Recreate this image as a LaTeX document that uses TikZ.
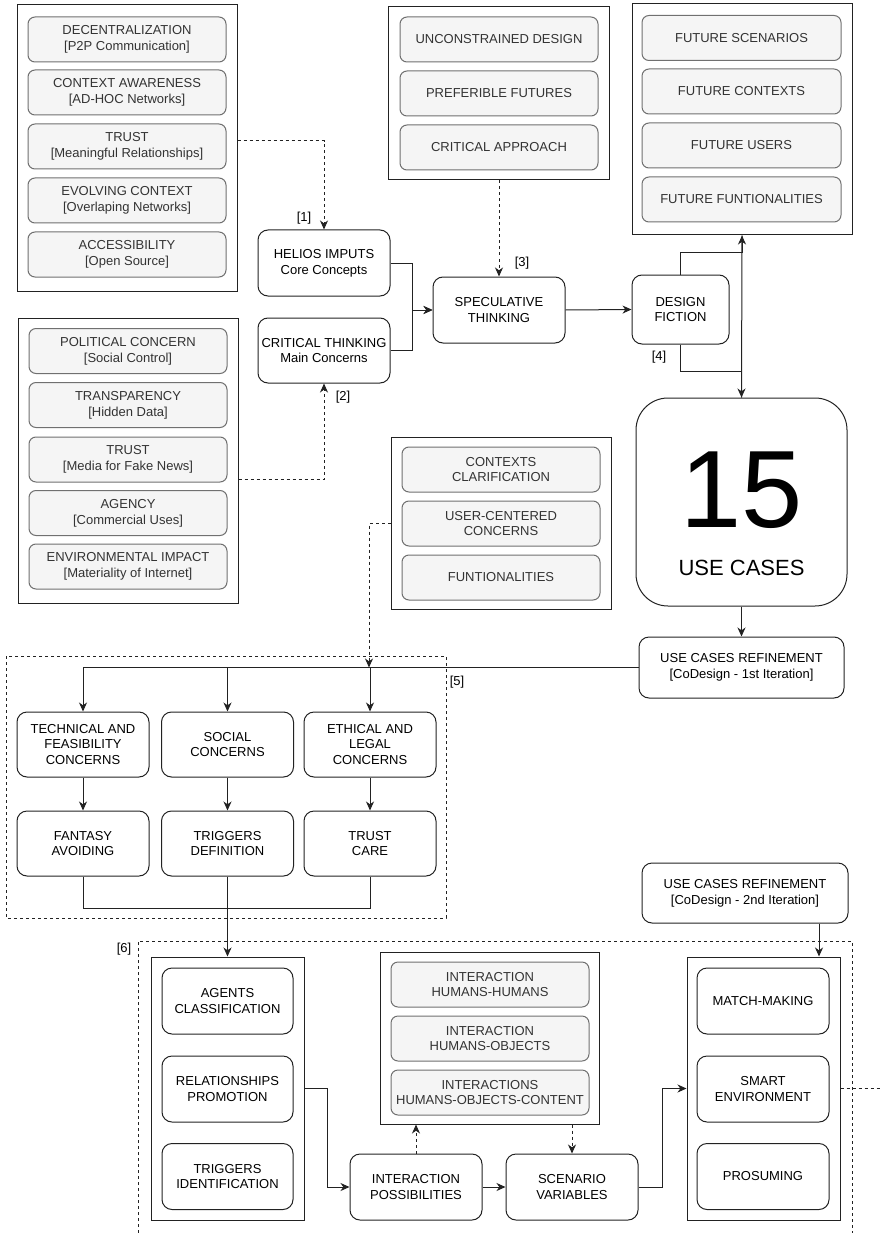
\documentclass[tikz,border=0pt]{standalone}
\usepackage{fontspec}
\setmainfont{Liberation Sans}
\usetikzlibrary{arrows.meta}
\definecolor{gfill}{HTML}{F5F5F5}
\definecolor{gline}{HTML}{707070}
\definecolor{gtext}{HTML}{333333}
\definecolor{ink}{HTML}{222222}
\newcommand\fnorm{\fontsize{13}{15.7}\selectfont}
\begin{document}
\begin{tikzpicture}[x=1pt,y=-1pt,
  >={Stealth[length=9pt,width=8pt,inset=2.8pt]},
  every node/.style={font=\fnorm, inner sep=0pt},
  cont/.style={draw=ink, line width=1pt, fill=white},
  gbox/.style={draw=gline, line width=1pt, fill=gfill, text=gtext,
    rounded corners=7pt, align=center, minimum width=198pt, minimum height=45pt},
  wbox/.style={draw=ink, line width=1pt, fill=white, text=black,
    rounded corners=10pt, align=center, minimum width=132pt, minimum height=66pt},
  conn/.style={draw=ink, line width=1pt},
  dashln/.style={draw=ink, line width=1pt, dash pattern=on 3pt off 3pt},
  lbl/.style={text=black}
]
\useasboundingbox (0,0) rectangle (880,1233);

% ---------- group frames (dashed) ----------
\draw[dashln] (6,656) rectangle (446,918);
\draw[dashln] (138,1233) -- (138,941) -- (852,941) -- (852,1233);

% ---------- HELIOS core concepts ----------
\node[cont, minimum width=220pt, minimum height=286pt] (A) at (127,148) {};
\node[gbox] (a1) at (127,39.5)  {DECENTRALIZATION\\{}[P2P Communication]};
\node[gbox] (a2) at (127,92.5)  {CONTEXT AWARENESS\\{}[AD-HOC Networks]};
\node[gbox] (a3) at (127,146.5) {TRUST\\{}[Meaningful Relationships]};
\node[gbox] (a4) at (127,200.5) {EVOLVING CONTEXT\\{}[Overlaping Networks]};
\node[gbox] (a5) at (127,254.5) {ACCESSIBILITY\\{}[Open Source]};

% ---------- main concerns ----------
\node[cont, minimum width=220pt, minimum height=285pt] (B) at (128,460.5) {};
\node[gbox] (b1) at (128,351)   {POLITICAL CONCERN\\{}[Social Control]};
\node[gbox] (b2) at (128,405)   {TRANSPARENCY\\{}[Hidden Data]};
\node[gbox] (b3) at (128,459.5) {TRUST\\{}[Media for Fake News]};
\node[gbox] (b4) at (128,513)   {AGENCY\\{}[Commercial Uses]};
\node[gbox] (b5) at (128,566.5) {ENVIRONMENTAL IMPACT\\{}[Materiality of Internet]};

% ---------- speculative design ----------
\node[cont, minimum width=221pt, minimum height=173pt] (D) at (498.5,93.5) {};
\node[gbox] (d1) at (499,39.5)  {UNCONSTRAINED DESIGN};
\node[gbox] (d2) at (499,93.5)  {PREFERIBLE FUTURES};
\node[gbox] (d3) at (499,147.5) {CRITICAL APPROACH};

% ---------- futures ----------
\node[cont, minimum width=220pt, minimum height=231pt] (E) at (742,119.5) {};
\node[gbox, minimum width=199pt] (e1) at (741.5,38)    {FUTURE SCENARIOS};
\node[gbox, minimum width=199pt] (e2) at (741.5,91.5)  {FUTURE CONTEXTS};
\node[gbox, minimum width=199pt] (e3) at (741.5,145.5) {FUTURE USERS};
\node[gbox, minimum width=199pt] (e4) at (741.5,199.5) {FUTURE FUNTIONALITIES};

% ---------- clarification ----------
\node[cont, minimum width=220pt, minimum height=172pt] (C) at (501,523) {};
\node[gbox] (c1) at (501,469.5) {CONTEXTS\\CLARIFICATION};
\node[gbox] (c2) at (501,523.5) {USER-CENTERED\\CONCERNS};
\node[gbox] (c3) at (501,577.5) {FUNTIONALITIES};

% ---------- process boxes ----------
\node[wbox] (hel) at (324,263) {HELIOS IMPUTS\\Core Concepts};
\node[wbox, minimum height=65pt] (crit) at (324,350.5) {CRITICAL THINKING\\Main Concerns};
\node[wbox] (spec) at (499,310) {SPECULATIVE\\THINKING};
\node[wbox, minimum width=97pt, minimum height=69pt] (df) at (680.5,309.5) {DESIGN\\FICTION};

\node[wbox, rounded corners=32pt, minimum width=211pt, minimum height=208pt] (uc) at (741.5,502) {};
\node[text=black, font=\fontsize{110}{110}\selectfont] (ucnum) at (741.5,490) {15};
\node[text=black, font=\fontsize{22}{26}\selectfont] (uctxt) at (741.5,568) {USE CASES};

\node[wbox, minimum width=205pt, minimum height=61pt] (ucr1) at (741.5,667.5)
  {USE CASES REFINEMENT\\{}[CoDesign - 1st Iteration]};

\node[wbox, minimum height=65pt] (tech) at (83,744.5)   {TECHNICAL AND\\FEASIBILITY\\CONCERNS};
\node[wbox, minimum height=65pt] (soc)  at (227.5,744.5) {SOCIAL\\CONCERNS};
\node[wbox, minimum height=65pt] (eth)  at (370,744.5)  {ETHICAL AND\\LEGAL\\CONCERNS};
\node[wbox, minimum height=65pt] (fant) at (83,843.5)   {FANTASY\\AVOIDING};
\node[wbox, minimum height=65pt] (td)   at (227.5,843.5) {TRIGGERS\\DEFINITION};
\node[wbox, minimum height=65pt] (tc)   at (370,843.5)  {TRUST\\CARE};

\node[wbox, minimum width=206pt, minimum height=60pt] (ucr2) at (745,893)
  {USE CASES REFINEMENT\\{}[CoDesign - 2nd Iteration]};

% agents
\node[cont, minimum width=153pt, minimum height=263pt] (F) at (227.5,1088.5) {};
\node[wbox, minimum width=131pt] (agc) at (227.5,1001)   {AGENTS\\CLASSIFICATION};
\node[wbox, minimum width=131pt] (rel) at (227.5,1089)   {RELATIONSHIPS\\PROMOTION};
\node[wbox, minimum width=131pt] (trg) at (227.5,1176.5) {TRIGGERS\\IDENTIFICATION};

% interactions
\node[cont, minimum width=219pt, minimum height=172pt] (G) at (489.5,1038) {};
\node[gbox] (g1) at (490,984.5)  {INTERACTION\\HUMANS-HUMANS};
\node[gbox] (g2) at (490,1038.5) {INTERACTION\\HUMANS-OBJECTS};
\node[gbox] (g3) at (490,1092.5) {INTERACTIONS\\HUMANS-OBJECTS-CONTENT};

\node[wbox] (ip) at (416,1187) {INTERACTION\\POSSIBILITIES};
\node[wbox] (sv) at (572,1187) {SCENARIO\\VARIABLES};

% outcomes
\node[cont, minimum width=153pt, minimum height=263pt] (H) at (763.5,1088.5) {};
\node[wbox] (mm) at (763,1001)   {MATCH-MAKING};
\node[wbox] (se) at (763,1089)   {SMART\\ENVIRONMENT};
\node[wbox] (pr) at (763,1176.5) {PROSUMING};

% ---------- connectors ----------
\draw[dashln,->] ([yshift=7pt]A.east) -| (hel.north);
\draw[dashln,->] ([yshift=-18.5pt]B.east) -| (crit.south);
\draw[dashln,->] (D.south -| spec.north) -- (spec.north);

\draw[conn,->] (hel.east) -- ++(22,0) |- (spec.west);
\draw[conn,->] (crit.east) -- ++(22,0) |- (spec.west);
\draw[conn,->] (spec.east) -- (df.west);

\draw[conn,->] (df.north) -- ++(0,-22) -| (E.south);
\draw[conn,->] (df.south) -- ++(0,27) -| (uc.north);
\draw[conn] (E.south) -- (uc.north);
\draw[conn,->] (uc.south) -- (ucr1.north);

\coordinate (busC) at (369,667.5);
\draw[conn,->] (ucr1.west) -| (tech.north);
\draw[conn,->] (soc.north |- ucr1.west) -- (soc.north);
\draw[conn,->] (eth.north |- ucr1.west) -- (eth.north);
\draw[dashln,->] (C.west) -| (busC);

\draw[conn,->] (tech.south) -- (fant.north);
\draw[conn,->] (soc.south) -- (td.north);
\draw[conn,->] (eth.south) -- (tc.north);
\draw[conn] (fant.south) -- ++(0,32) -| (tc.south);
\draw[conn,->] (td.south) -- (F.north);

\draw[conn,->] (F.east) -- ++(23,0) |- (ip.west);
\draw[conn,->] (ip.east) -- (sv.west);
\draw[dashln,->] (ip.north) -- (ip.north |- G.south);
\draw[dashln,->] (sv.north |- G.south) -- (sv.north);
\draw[conn,->] (sv.east) -- ++(24,0) |- (H.west);
\draw[conn,->] ([xshift=74pt]ucr2.south) -- ([xshift=74pt]ucr2.south |- H.north);
\coordinate (exitR) at (880,1088.5);
\draw[dashln] (H.east) -- (exitR);

% ---------- step labels ----------
\node[lbl] (l1) at (304,218) {[1]};
\node[lbl] (l2) at (343,397) {[2]};
\node[lbl] (l3) at (522,263) {[3]};
\node[lbl] (l4) at (659,357) {[4]};
\node[lbl] (l5) at (457,682) {[5]};
\node[lbl] (l6) at (124,949) {[6]};
\end{tikzpicture}
\end{document}
